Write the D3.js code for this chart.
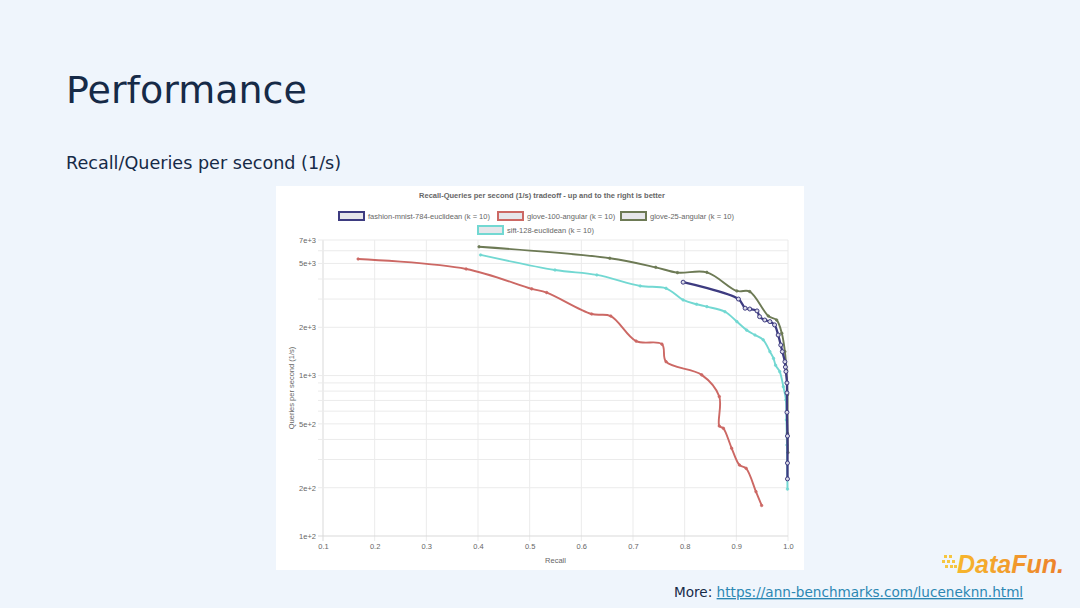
<!DOCTYPE html>
<html lang="en">
<head>
<meta charset="UTF-8">
<title>Performance</title>
<script src="https://cdnjs.cloudflare.com/ajax/libs/d3/7.8.5/d3.min.js"></script>
<style>
  * { margin: 0; padding: 0; box-sizing: border-box; }
  body { width: 1080px; height: 608px; overflow: hidden; background: #eff5fc; }
  svg { display: block; }
</style>
</head>
<body>
<svg id="slide" width="1080" height="608"></svg>
<script>
// ---- data (recall, queries per second) ----
const fashionMnist = [
  [0.797, 3820], [0.904, 3000], [0.917, 2630], [0.926, 2600], [0.940, 2530],
  [0.945, 2330], [0.955, 2220], [0.965, 2170], [0.974, 2070], [0.981, 1790],
  [0.986, 1550], [0.989, 1410], [0.994, 1220], [0.995, 1130], [0.996, 1060],
  [0.998, 900], [0.998, 780], [0.998, 590], [0.999, 420], [0.999, 285], [0.999, 227]
];
const glove100 = [
  [0.168, 5330], [0.377, 4620], [0.504, 3470], [0.533, 3290], [0.620, 2420],
  [0.657, 2350], [0.706, 1640], [0.756, 1570], [0.764, 1220], [0.833, 1010],
  [0.867, 740], [0.867, 485], [0.875, 469], [0.891, 352], [0.906, 277],
  [0.919, 264], [0.938, 189], [0.949, 155]
];
const glove25 = [
  [0.402, 6350], [0.655, 5390], [0.744, 4730], [0.786, 4380], [0.843, 4400],
  [0.901, 3370], [0.926, 3340], [0.962, 2350], [0.978, 2220], [0.988, 1835],
  [0.994, 1410], [0.997, 1080], [0.999, 760], [0.999, 437], [1.0, 331]
];
const sift128 = [
  [0.405, 5650], [0.549, 4550], [0.630, 4240], [0.714, 3620], [0.764, 3500],
  [0.797, 2960], [0.823, 2785], [0.843, 2690], [0.878, 2500], [0.901, 2170],
  [0.920, 1920], [0.936, 1790], [0.952, 1670], [0.965, 1410], [0.972, 1280],
  [0.976, 1160], [0.984, 1058], [0.991, 853], [0.996, 704], [0.997, 529],
  [0.998, 369], [0.999, 196]
];

const seriesNames = [
  "fashion-mnist-784-euclidean (k = 10)",
  "glove-100-angular (k = 10)",
  "glove-25-angular (k = 10)",
  "sift-128-euclidean (k = 10)"
];
const seriesColors = ["#3d3b80", "#cc6864", "#6d7a55", "#72d8d2"];
const seriesData = [fashionMnist, glove100, glove25, sift128];

const recallTicks = [0.1, 0.2, 0.3, 0.4, 0.5, 0.6, 0.7, 0.8, 0.9, 1.0];
const qpsGrid = [100, 200, 300, 400, 500, 600, 700, 800, 900,
                 1000, 2000, 3000, 4000, 5000, 6000, 7000];
const qpsLabelled = [100, 200, 500, 1000, 2000, 5000, 7000];

// ---- slide ----
const svg = d3.select("#slide");
const slideFont = "'DejaVu Sans', Verdana, sans-serif";
const chartFont = "'Liberation Sans', Helvetica, Arial, sans-serif";

svg.append("rect").attr("width", 1080).attr("height", 608).attr("fill", "#eff5fc");

svg.append("text")
  .attr("x", 66).attr("y", 103)
  .attr("font-family", slideFont).attr("font-size", 38)
  .attr("fill", "#162a47")
  .text("Performance");

svg.append("text")
  .attr("x", 66).attr("y", 169)
  .attr("font-family", slideFont).attr("font-size", 17.6)
  .attr("fill", "#162a47")
  .text("Recall/Queries per second (1/s)");

// chart card
svg.append("rect")
  .attr("x", 276).attr("y", 186).attr("width", 528).attr("height", 384)
  .attr("fill", "#ffffff");

const chart = { left: 323, right: 788, top: 240, bottom: 536 };

const x = d3.scaleLinear().domain([0.1, 1.0]).range([chart.left, chart.right]);
const y = d3.scaleLog().domain([100, 7000]).range([chart.bottom, chart.top]);

const g = svg.append("g");

// grid
g.append("g")
  .selectAll("line")
  .data(recallTicks)
  .join("line")
  .attr("x1", d => x(d)).attr("x2", d => x(d))
  .attr("y1", chart.top).attr("y2", chart.bottom + 5)
  .attr("stroke", d => d === 0.1 ? "#d9d9d9" : "#ebebeb")
  .attr("stroke-width", 1);

g.append("g")
  .selectAll("line")
  .data(qpsGrid)
  .join("line")
  .attr("x1", chart.left - 5).attr("x2", chart.right)
  .attr("y1", d => y(d)).attr("y2", d => y(d))
  .attr("stroke", d => d === 100 ? "#d9d9d9" : "#ebebeb")
  .attr("stroke-width", 1);

// axis labels via d3 axes (grid drawn above)
const xAxis = d3.axisBottom(x).tickValues(recallTicks).tickSize(0).tickPadding(8)
  .tickFormat(d3.format(".1f"));
const yAxis = d3.axisLeft(y).tickValues(qpsLabelled).tickSize(0).tickPadding(7)
  .tickFormat(d3.format(".0e"));

const xa = g.append("g").attr("transform", `translate(0,${chart.bottom})`).call(xAxis);
const ya = g.append("g").attr("transform", `translate(${chart.left},0)`).call(yAxis);
[xa, ya].forEach(a => {
  a.select(".domain").remove();
  a.selectAll("text")
    .attr("font-family", chartFont).attr("font-size", 7.5).attr("fill", "#666");
});

g.append("text")
  .attr("x", (chart.left + chart.right) / 2).attr("y", 563)
  .attr("text-anchor", "middle")
  .attr("font-family", chartFont).attr("font-size", 7.5).attr("fill", "#666")
  .text("Recall");

g.append("text")
  .attr("transform", `translate(294,${(chart.top + chart.bottom) / 2}) rotate(-90)`)
  .attr("text-anchor", "middle")
  .attr("font-family", chartFont).attr("font-size", 7.5).attr("fill", "#666")
  .text("Queries per second (1/s)");

// chart title
g.append("text")
  .attr("x", 542).attr("y", 198)
  .attr("text-anchor", "middle")
  .attr("font-family", chartFont).attr("font-size", 7.5).attr("font-weight", "bold")
  .attr("fill", "#666")
  .text("Recall-Queries per second (1/s) tradeoff - up and to the right is better");

// legend
const legendPos = [[338, 216], [497, 216], [620, 216], [477, 230]];
const legend = g.append("g")
  .selectAll("g")
  .data(seriesNames)
  .join("g")
  .attr("transform", (d, i) => `translate(${legendPos[i][0]},${legendPos[i][1]})`);
legend.append("rect")
  .attr("x", 1).attr("y", -4).attr("width", 25).attr("height", 8)
  .attr("fill", "#e6e6ea")
  .attr("stroke", (d, i) => seriesColors[i]).attr("stroke-width", 2);
legend.append("text")
  .attr("x", 30).attr("y", 3)
  .attr("font-family", chartFont).attr("font-size", 7.5).attr("fill", "#666")
  .text(d => d);

// series lines, first dataset on top
const line = d3.line()
  .x(d => x(d[0])).y(d => y(d[1]))
  .curve(d3.curveCatmullRom.alpha(0.5));

const order = [3, 2, 1, 0];
const seriesG = g.append("g")
  .selectAll("g")
  .data(order)
  .join("g");

seriesG.append("path")
  .attr("d", i => line(seriesData[i]))
  .attr("fill", "none")
  .attr("stroke", i => seriesColors[i])
  .attr("stroke-width", i => i === 0 ? 2.3 : 1.9)
  .attr("stroke-linejoin", "round");

seriesG.selectAll("circle")
  .data(i => seriesData[i].map(p => ({ p, i })))
  .join("circle")
  .attr("cx", d => x(d.p[0])).attr("cy", d => y(d.p[1]))
  .attr("r", d => d.i === 0 ? 2 : 1.3)
  .attr("fill", d => d.i === 0 ? "#dcdce8" : seriesColors[d.i])
  .attr("stroke", d => seriesColors[d.i])
  .attr("stroke-width", d => d.i === 0 ? 1 : 0.6);

// footer
const footer = svg.append("text")
  .attr("x", 674).attr("y", 597)
  .attr("font-family", slideFont).attr("font-size", 13.6);
footer.append("tspan").attr("fill", "#162a47").text("More: ");
footer.append("tspan").attr("fill", "#2b87b3").attr("text-decoration", "underline")
  .text("https://ann-benchmarks.com/luceneknn.html");

// DataFun logo
const logo = svg.append("g");
const grad = svg.append("defs").append("linearGradient")
  .attr("id", "logoGrad").attr("x1", "0").attr("x2", "1");
grad.append("stop").attr("offset", "0").attr("stop-color", "#f7b72d");
grad.append("stop").attr("offset", "1").attr("stop-color", "#ec7f2c");
const dots = [[944, 555], [949, 555], [942, 560], [947, 560], [952, 560], [945, 565], [950, 565], [954, 565]];
logo.selectAll("rect")
  .data(dots)
  .join("rect")
  .attr("x", d => d[0]).attr("y", d => d[1])
  .attr("width", 3).attr("height", 3)
  .attr("fill", "#f6c640");
logo.append("text")
  .attr("x", 957).attr("y", 573)
  .attr("font-family", "'Liberation Sans', Arial, sans-serif").attr("font-size", 25)
  .attr("font-weight", "bold").attr("font-style", "italic")
  .attr("fill", "url(#logoGrad)")
  .text("DataFun.");
</script>
</body>
</html>
